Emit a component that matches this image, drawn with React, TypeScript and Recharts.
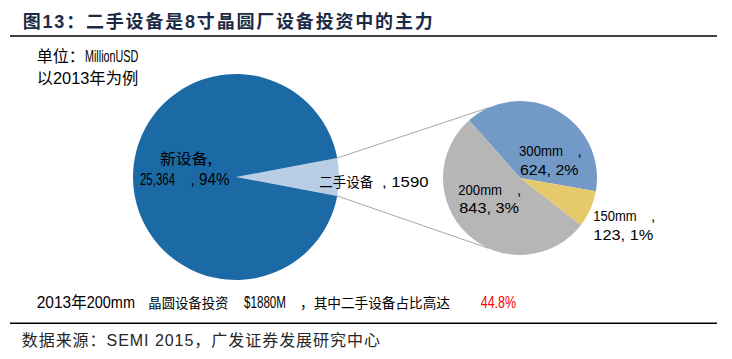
import React from 'react';
import { PieChart, Pie, Cell } from 'recharts';

// ---- data ----
const mainCategories = ['二手设备', '新设备'];
const mainValues = [1590, 25364];
const mainPercents = [6, 94];

const usedCategories = ['300mm', '150mm', '200mm'];
const usedValues = [624, 123, 843];
const usedPercents = [2, 1, 3];

const total200mmInvestment = 1880; // Million USD
const titleText = '图13：二手设备是8寸晶圆厂设备投资中的主力';
const unitText = '单位：';
const unitName = 'MillionUSD';
const yearNote = '以2013年为例';
const sourceText = '数据来源：SEMI 2015，广发证券发展研究中心';

// ---- styles / geometry ----
const W = 732;
const H = 359;
const mainColors = ['#B9CDE5', '#1B6AA5'];
const usedColors = ['#7399C6', '#E6C96B', '#B6B6B6'];
const LATIN = "'Liberation Sans', Arial, 'Noto Sans CJK SC', sans-serif";
const CJK = "'Noto Sans CJK SC', 'Liberation Sans', sans-serif";

const main = { cx: 236, cy: 177, r: 103 };
const used = { cx: 520, cy: 178, r: 77, start: 131.3, connector: 114 };

const mainTotal = mainValues.reduce((a, b) => a + b, 0);
const usedHalfAngle = ((mainValues[0] / mainTotal) * 360) / 2;

const mainData = mainCategories.map((name, i) => ({ name, value: mainValues[i] }));
const usedData = usedCategories.map((name, i) => ({ name, value: usedValues[i] }));

const fmt = (v: number) => v.toLocaleString('en-US');
const rad = (d: number) => (d * Math.PI) / 180;

type TProps = {
  x: number;
  y: number;
  w?: number;
  fs: number;
  fill?: string;
  weight?: number | string;
  family?: string;
  adjust?: 'spacing' | 'spacingAndGlyphs';
  children: React.ReactNode;
};

function T({ x, y, w, fs, fill = '#000', weight, family = LATIN, adjust = 'spacingAndGlyphs', children }: TProps) {
  return (
    <text
      x={x}
      y={y}
      fontSize={fs}
      fill={fill}
      fontWeight={weight}
      fontFamily={family}
      textLength={w}
      lengthAdjust={w ? adjust : undefined}
    >
      {children}
    </text>
  );
}

export default function App() {
  const upperStart = {
    x: main.cx + main.r * Math.cos(rad(usedHalfAngle)),
    y: main.cy - main.r * Math.sin(rad(usedHalfAngle)),
  };
  const lowerStart = {
    x: main.cx + main.r * Math.cos(rad(-usedHalfAngle)),
    y: main.cy - main.r * Math.sin(rad(-usedHalfAngle)),
  };
  const upperEnd = {
    x: used.cx + used.r * Math.cos(rad(used.connector)),
    y: used.cy - used.r * Math.sin(rad(used.connector)),
  };
  const lowerEnd = {
    x: used.cx + used.r * Math.cos(rad(-used.connector)),
    y: used.cy - used.r * Math.sin(rad(-used.connector)),
  };

  const usedTotal = usedValues.reduce((a, b) => a + b, 0);
  const share200 = ((usedValues[2] / total200mmInvestment) * 100).toFixed(1);

  return (
    <div style={{ position: 'absolute', left: 0, top: 0, width: W, height: H, background: '#fff' }}>
      <PieChart width={W} height={H} margin={{ top: 0, right: 0, bottom: 0, left: 0 }}>
        <Pie
          data={mainData}
          dataKey="value"
          nameKey="name"
          cx={main.cx}
          cy={main.cy}
          outerRadius={main.r}
          innerRadius={0}
          startAngle={usedHalfAngle}
          endAngle={usedHalfAngle - 360}
          stroke="none"
          label={false}
          labelLine={false}
          isAnimationActive={false}
        >
          {mainData.map((d, i) => (
            <Cell key={d.name} fill={mainColors[i]} />
          ))}
        </Pie>
        <Pie
          data={usedData}
          dataKey="value"
          nameKey="name"
          cx={used.cx}
          cy={used.cy}
          outerRadius={used.r}
          innerRadius={0}
          startAngle={used.start}
          endAngle={used.start - 360}
          stroke="none"
          label={false}
          labelLine={false}
          isAnimationActive={false}
        >
          {usedData.map((d, i) => (
            <Cell key={d.name} fill={usedColors[i]} />
          ))}
        </Pie>
      </PieChart>

      <svg
        width={W}
        height={H}
        style={{ position: 'absolute', left: 0, top: 0, pointerEvents: 'none' }}
      >
        {/* title */}
        <T x={22.7} y={27.5} fs={18} weight={700} family={LATIN} fill="#1C2B45" w={410} adjust="spacing">
          {titleText}
        </T>
        <line x1={10} y1={36} x2={717} y2={36} stroke="#000" strokeWidth={1.5} />

        {/* unit note */}
        <T x={36.7} y={62} fs={16} family={CJK} w={48}>{unitText}</T>
        <T x={85} y={62} fs={16.5} w={53.3}>{unitName}</T>
        <T x={36.7} y={83.5} fs={16} w={101.6}>{yearNote}</T>

        {/* connectors */}
        <line x1={upperStart.x} y1={upperStart.y} x2={upperEnd.x} y2={upperEnd.y} stroke="#A6A6A6" strokeWidth={1} />
        <line x1={lowerStart.x} y1={lowerStart.y} x2={lowerEnd.x} y2={lowerEnd.y} stroke="#A6A6A6" strokeWidth={1} />

        {/* main pie labels */}
        <T x={160} y={164} fs={15} family={CJK} w={52}>{`${mainCategories[1]},`}</T>
        <T x={140} y={185} fs={17} w={35}>{fmt(mainValues[1])}</T>
        <T x={190.5} y={185} fs={16.5} w={39}>{`, ${mainPercents[1]}%`}</T>
        <T x={319.3} y={187} fs={13.5} family={CJK} w={54}>{mainCategories[0]}</T>
        <T x={382} y={187} fs={15.5} w={46.5}>{`, ${usedTotal}`}</T>

        {/* secondary pie labels */}
        <T x={519} y={156} fs={15.5} w={44}>{usedCategories[0]}</T>
        <T x={577.5} y={156} fs={15.5}>,</T>
        <T x={520} y={175} fs={15.5} w={58.5}>{`${usedValues[0]}, ${usedPercents[0]}%`}</T>

        <T x={458.3} y={195.3} fs={15.5} w={43.7}>{usedCategories[2]}</T>
        <T x={517} y={195.3} fs={15.5}>,</T>
        <T x={459.3} y={213.3} fs={15.5} w={59.7}>{`${usedValues[2]}, ${usedPercents[2]}%`}</T>

        <T x={593.3} y={220.7} fs={15.5} w={43.4}>{usedCategories[1]}</T>
        <T x={651} y={220.7} fs={15.5}>,</T>
        <T x={593.3} y={240} fs={15.5} w={60}>{`${usedValues[1]}, ${usedPercents[1]}%`}</T>

        {/* bottom note */}
        <T x={36.7} y={307.5} fs={16} w={50}>2013年</T>
        <T x={86.7} y={307.5} fs={16.5} w={48.3}>200mm</T>
        <T x={148.3} y={307.5} fs={13.3} family={CJK} w={80}>晶圆设备投资</T>
        <T x={244} y={307.5} fs={16.5} w={42}>{`$${total200mmInvestment}M`}</T>
        <T x={300} y={307.5} fs={13.6} family={CJK} w={150}>，其中二手设备占比高达</T>
        <T x={480.7} y={307.5} fs={16.5} w={35.5} fill="#FF0000">{`${share200}%`}</T>

        <line x1={10} y1={323.3} x2={717} y2={323.3} stroke="#000" strokeWidth={1.5} />

        {/* source */}
        <T x={21.7} y={346} fs={16} family={LATIN} fill="#262626" w={358.3} adjust="spacing">
          {sourceText}
        </T>
      </svg>
    </div>
  );
}
